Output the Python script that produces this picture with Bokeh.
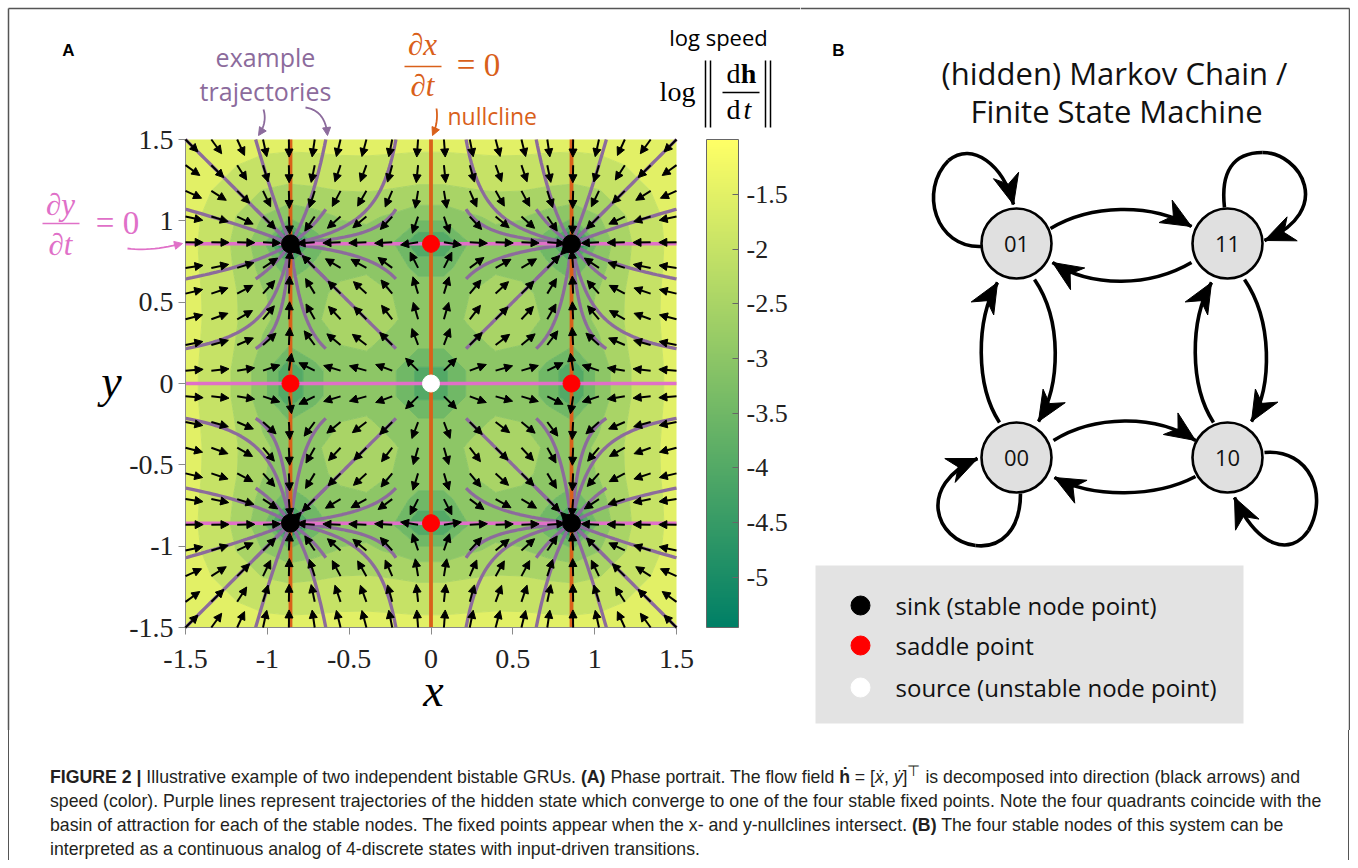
import numpy as np
from bokeh.plotting import figure
from bokeh.models import (ColumnDataSource, Label, Arrow, NormalHead, ColorBar, LinearAxis,
                          LinearColorMapper, FixedTicker, Range1d, Div, CustomJSTickFormatter)
from bokeh.layouts import row, column
from bokeh.core.properties import value
from bokeh.embed import file_html
from bokeh.resources import INLINE

# ---------------- data ----------------
# two independent bistable GRUs:  dh/dt = RATE * (tanh(GAIN*h) - h)
GRU_GAIN = 1.5
GRU_RATE = 0.5
LIMIT = 1.5
FIELD_POINTS = 20          # quiver / speed grid per axis
START_POINTS = 8           # trajectory start grid per axis
axis_ticks = [-1.5, -1.0, -0.5, 0.0, 0.5, 1.0, 1.5]
cbar_ticks = [-5.0, -4.5, -4.0, -3.5, -3.0, -2.5, -2.0, -1.5]
contour_levels = [-6.0, -5.5, -5.0, -4.5, -4.0, -3.5, -3.0, -2.5, -2.0, -1.5, -1.0, 0.0]
legend_labels = ["sink (stable node point)", "saddle point", "source (unstable node point)"]
legend_colors = ["black", "#ff0000", "white"]
node_labels = ["01", "11", "00", "10"]
node_x = [1016, 1227, 1016, 1227]
node_y = [243, 243, 457, 457]

PURPLE = "#8C6B9C"
ORANGE = "#D9601A"
PINK = "#E070C8"
SERIF = "Liberation Serif"
SANS = "Open Sans"


def flow(v):
    return GRU_RATE * (np.tanh(GRU_GAIN * v) - v)


xs_star = 1.0
for _ in range(200):
    xs_star = np.tanh(GRU_GAIN * xs_star)

grid = np.linspace(-LIMIT, LIMIT, FIELD_POINTS)
GX, GY = np.meshgrid(grid, grid)
U, V = flow(GX), flow(GY)
SPEED = np.hypot(U, V)
LOGS = np.log(SPEED)

lo, hi = float(LOGS.min()), float(LOGS.max())
palette = ["#%02x%02x%02x" % (int(round(255 * t)), int(round(255 * (0.5 + 0.5 * t))), 102)
           for t in np.linspace(0, 1, 256)]


def pal(v):
    t = min(max((v - lo) / (hi - lo), 0.0), 1.0)
    return palette[int(round(t * 255))]


band_colors = [pal(contour_levels[k]) for k in range(len(contour_levels) - 1)]
line_colors = [band_colors[max(k - 1, 0)] for k in range(len(contour_levels))]

# ---------------- figure A (frame = whole canvas; data box placed inside) ----------------
WA, HA = 800, 730
FL, FR, FT, FB = 185, 676, 139, 627      # page pixels of the [-1.5,1.5]^2 box
sx = 2 * LIMIT / (FR - FL)
sy = 2 * LIMIT / (FB - FT)
p = figure(width=WA, height=HA,
           x_range=Range1d(-LIMIT - FL * sx, LIMIT + (WA - FR) * sx),
           y_range=Range1d(-LIMIT - (HA - FB) * sy, LIMIT + FT * sy),
           x_axis_location=None, y_axis_location=None, min_border=0,
           toolbar_location=None, output_backend="svg")
p.grid.visible = False
p.outline_line_color = None
p.frame_align = False


def hx(px):
    return -LIMIT + (px - FL) * sx


def hy(py):
    return LIMIT - (py - FT) * sy


p.contour(x=grid, y=grid, z=LOGS, levels=contour_levels, fill_color=band_colors,
          line_color=line_colors, line_width=1.0)

# trajectories
starts = np.linspace(-LIMIT, LIMIT, START_POINTS)
tx, ty = [], []
dt = 0.04
for x0 in starts:
    for y0 in starts:
        xx, yy = [x0], [y0]
        cx, cy = x0, y0
        for i in range(1200):
            k1x, k1y = flow(cx), flow(cy)
            k2x, k2y = flow(cx + dt / 2 * k1x), flow(cy + dt / 2 * k1y)
            k3x, k3y = flow(cx + dt / 2 * k2x), flow(cy + dt / 2 * k2y)
            k4x, k4y = flow(cx + dt * k3x), flow(cy + dt * k3y)
            cx += dt / 6 * (k1x + 2 * k2x + 2 * k3x + k4x)
            cy += dt / 6 * (k1y + 2 * k2y + 2 * k3y + k4y)
            if i % 3 == 0:
                xx.append(cx); yy.append(cy)
        tx.append(xx); ty.append(yy)
p.multi_line(tx, ty, line_color=PURPLE, line_width=3.3)

# nullclines
nulls = [-xs_star, 0.0, xs_star]
p.multi_line([[-LIMIT, LIMIT]] * 3, [[v, v] for v in nulls], line_color=PINK, line_width=3.5)
p.multi_line([[v, v] for v in nulls], [[-LIMIT, LIMIT]] * 3, line_color=ORANGE, line_width=3.8)

# direction arrows
AL = 0.108
qsrc = ColumnDataSource(dict(x0=GX.ravel(), y0=GY.ravel(),
                             x1=(GX + AL * U / SPEED).ravel(), y1=(GY + AL * V / SPEED).ravel()))
p.add_layout(Arrow(source=qsrc, x_start="x0", y_start="y0", x_end="x1", y_end="y1",
                   line_width=2, line_color="black",
                   end=NormalHead(size=8, fill_color="black", line_color="black", line_width=1)))

# fixed points
sink_x = [-xs_star, xs_star, -xs_star, xs_star]
sink_y = [xs_star, xs_star, -xs_star, -xs_star]
sad_x = [0, 0, -xs_star, xs_star]
sad_y = [xs_star, -xs_star, 0, 0]
p.scatter(sink_x, sink_y, size=18, fill_color="black", line_color="black", level="overlay")
p.scatter(sad_x, sad_y, size=17, fill_color="#ff0000", line_color="#ff0000", level="overlay")
p.scatter([0], [0], size=17, fill_color="white", line_color="white", level="overlay")

# axes, fixed at the data box edges
fmt = CustomJSTickFormatter(code="return tick.toString();")
xax = LinearAxis(fixed_location=-LIMIT, bounds=(-LIMIT, LIMIT))
yax = LinearAxis(fixed_location=-LIMIT, bounds=(-LIMIT, LIMIT))
for ax in (xax, yax):
    ax.ticker = FixedTicker(ticks=axis_ticks)
    ax.formatter = fmt
    ax.major_label_text_font = SERIF
    ax.major_label_text_font_size = "28px"
    ax.major_label_text_color = "#222222"
    ax.axis_line_color = "#8a8a8a"
    ax.major_tick_line_color = "#8a8a8a"
    ax.major_tick_out = 7
    ax.major_tick_in = 0
    ax.minor_tick_line_color = None
xax.major_label_standoff = 15
yax.major_label_standoff = 5
p.add_layout(xax, "below")
p.add_layout(yax, "left")

# colour bar
mapper = LinearColorMapper(palette=palette, low=lo, high=hi)
cb = ColorBar(color_mapper=mapper, ticker=FixedTicker(ticks=cbar_ticks), formatter=fmt,
              width=32, height=FB - FT, margin=0, padding=0, location=(706, HA - FB),
              major_label_text_font=SERIF, major_label_text_font_size="26px",
              major_label_text_color="#222222",
              major_tick_in=6, major_tick_out=0, major_tick_line_color="#666666",
              bar_line_color="#666666", label_standoff=8, background_fill_alpha=0)
p.add_layout(cb, "center")


def lab(px, py, text, size, color="black", font=SANS, style="normal", align="center"):
    p.add_layout(Label(x=hx(px), y=hy(py), text=text, text_font=font,
                       text_font_size=f"{size}px", text_color=color, text_font_style=style,
                       text_align=align, text_baseline="middle"))


def seg(x0, y0, x1, y1, color="black", w=1.5):
    p.add_layout(Arrow(x_start=hx(x0), y_start=hy(y0), x_end=hx(x1), y_end=hy(y1),
                       end=None, line_color=color, line_width=w))


def curved_arrow(p0, c, p1, color, w=1.8):
    t = np.linspace(0, 1, 14)
    bx = (1 - t) ** 2 * p0[0] + 2 * (1 - t) * t * c[0] + t ** 2 * p1[0]
    by = (1 - t) ** 2 * p0[1] + 2 * (1 - t) * t * c[1] + t ** 2 * p1[1]
    p.line([hx(v) for v in bx[:-1]], [hy(v) for v in by[:-1]], line_color=color, line_width=w)
    p.add_layout(Arrow(x_start=hx(bx[-2]), y_start=hy(by[-2]), x_end=hx(bx[-1]), y_end=hy(by[-1]),
                       line_color=color, line_width=w,
                       end=NormalHead(size=8, fill_color=color, line_color=color, line_width=1)))


# figure frame lines (top/left of the boxed figure)
p.segment([hx(8), hx(8)], [hy(8), hy(8)], [hx(WA), hx(8)], [hy(8), hy(HA)],
          line_color="#555555", line_width=1.5)

lab(68, 50, "A", 17, font="Liberation Sans", style="bold")
lab(265, 56, "example", 25, PURPLE)
lab(265, 90, "trajectories", 25, PURPLE)
curved_arrow((263, 109), (267, 122), (258, 135), PURPLE)
curved_arrow((305, 107), (325, 110), (327, 135), PURPLE)

lab(422, 44, "∂x", 31, ORANGE, SERIF, "italic")
seg(404, 66, 441, 66, ORANGE)
lab(422, 85, "∂t", 31, ORANGE, SERIF, "italic")
lab(478, 64, "= 0", 33, ORANGE, SERIF)
lab(447, 115, "nullcline", 23, ORANGE, align="left")
curved_arrow((436, 108), (438, 122), (432, 135), ORANGE)

lab(60, 204, "∂y", 31, PINK, SERIF, "italic")
seg(42, 223, 79, 223, PINK)
lab(60, 244, "∂t", 31, PINK, SERIF, "italic")
lab(117, 222, "= 0", 33, PINK, SERIF)
curved_arrow((127, 248), (150, 251), (182, 243), PINK)

lab(718, 36, "log speed", 22)
lab(677, 91, "log", 28, font=SERIF)
for bx_ in (705, 710, 765, 770):
    seg(bx_, 60, bx_, 127, "black", 1.5)
lab(733, 73, "d", 28, font=SERIF)
lab(748, 73, "h", 28, font=SERIF, style="bold")
seg(722, 92, 759, 92, "black", 1.5)
lab(733, 109, "d", 28, font=SERIF)
lab(747, 109, "t", 28, font=SERIF, style="italic")

lab(111, 381, "y", 46, font=SERIF, style="italic")
lab(433, 690, "x", 46, font=SERIF, style="italic")

# ---------------- figure B ----------------
pb = figure(width=550, height=HA, x_range=Range1d(800, 1350), y_range=Range1d(HA, 0),
            x_axis_location=None, y_axis_location=None, min_border=0,
            toolbar_location=None, output_backend="svg")
pb.grid.visible = False
pb.outline_line_color = None
pb.frame_align = False

pb.segment([800, 1349], [8, 8], [1349, 1349], [8, HA], line_color="#555555", line_width=1.5)

pb.text([838], [50], text=["B"], text_font=value("Liberation Sans"), text_font_style="bold",
        text_font_size="17px", text_align="center", text_baseline="middle")
pb.text([1114, 1116], [72, 110], text=["(hidden) Markov Chain /", "Finite State Machine"],
        text_font=value(SANS), text_font_size="31px", text_align="center",
        text_baseline="middle", text_color="#111111")

edges = [  # x0, y0, cx0, cy0, cx1, cy1, x1, y1   (last one of each chain gets a head)
    [(1050, 228, 1090, 204, 1150, 202, 1191, 226)],
    [(1191, 262, 1150, 286, 1092, 288, 1052, 262)],
    [(1034, 279, 1062, 320, 1060, 385, 1038, 421)],
    [(999, 422, 975, 385, 975, 320, 997, 282)],
    [(1053, 440, 1093, 415, 1155, 413, 1195, 440)],
    [(1195, 476, 1155, 497, 1093, 498, 1054, 477)],
    [(1213, 422, 1189, 385, 1189, 320, 1211, 282)],
    [(1244, 279, 1272, 320, 1272, 385, 1251, 421)],
    [(981, 246, 935, 248, 918, 190, 948, 160), (948, 160, 972, 140, 1003, 165, 1013, 204)],
    [(1224, 207, 1220, 172, 1232, 152, 1262, 152), (1262, 152, 1300, 152, 1335, 210, 1264, 240)],
    [(1020, 493, 1020, 530, 1000, 548, 975, 545), (975, 545, 935, 540, 915, 485, 977, 458)],
    [(1264, 452, 1310, 448, 1328, 495, 1308, 530), (1308, 530, 1290, 556, 1258, 548, 1234, 497)],
]
segs = [s for chain in edges for s in chain]
bsrc = ColumnDataSource(dict(x0=[s[0] for s in segs], y0=[s[1] for s in segs],
                             cx0=[s[2] for s in segs], cy0=[s[3] for s in segs],
                             cx1=[s[4] for s in segs], cy1=[s[5] for s in segs],
                             x1=[s[6] for s in segs], y1=[s[7] for s in segs]))
pb.bezier(x0="x0", y0="y0", cx0="cx0", cy0="cy0", cx1="cx1", cy1="cy1", x1="x1", y1="y1",
          source=bsrc, line_color="black", line_width=3.6)
hxs, hys = [], []
for chain in edges:
    s = chain[-1]
    tip = np.array([s[6], s[7]], float)
    d = tip - np.array([s[4], s[5]], float)
    d /= np.hypot(*d)
    n = np.array([-d[1], d[0]])
    L, W, N = 30, 13, 9
    pts = [tip, tip - L * d + W * n, tip - (L - N) * d, tip - L * d - W * n]
    hxs.append([q[0] for q in pts]); hys.append([q[1] for q in pts])
pb.patches(hxs, hys, fill_color="black", line_color="black", line_width=1)

pb.circle(node_x, node_y, radius=35, fill_color="#e0e0e0", line_color="black", line_width=2.6)
pb.text(node_x, node_y, text=node_labels, text_font=value(SANS), text_font_size="22px",
        text_align="center", text_baseline="middle", text_color="#111111")

# legend box
pb.quad(left=[815], right=[1243], top=[565], bottom=[723], fill_color="#e3e3e3", line_color=None)
ly = [605, 645, 687]
pb.scatter([860] * 3, ly, size=19, fill_color=legend_colors, line_color=legend_colors)
pb.text([895] * 3, ly, text=legend_labels, text_font=value(SANS), text_font_size="24px",
        text_align="left", text_baseline="middle", text_color="#111111")

# ---------------- caption ----------------
caption = (
    '<div style="position:relative;margin-left:8px;width:1341px;height:130px;'
    'border-left:1.5px solid #555;border-right:1.5px solid #555;">'
    '<div style="font-family:\'Liberation Sans\',Arial,sans-serif;font-size:17.7px;'
    'line-height:24px;color:#231f20;padding:29px 0 0 41px;white-space:nowrap;">'
    '<b>FIGURE 2 |</b> Illustrative example of two independent bistable GRUs. <b>(A)</b> Phase portrait. '
    'The flow field <b>ḣ</b> = [<i>ẋ</i>, <i>ẏ</i>]<sup>⊤</sup> is decomposed into direction (black arrows) and<br>'
    'speed (color). Purple lines represent trajectories of the hidden state which converge to one of the four '
    'stable fixed points. Note the four quadrants coincide with the<br>'
    'basin of attraction for each of the stable nodes. The fixed points appear when the x- and y-nullclines '
    'intersect. <b>(B)</b> The four stable nodes of this system can be<br>'
    'interpreted as a continuous analog of 4-discrete states with input-driven transitions.'
    '</div></div>')
div = Div(text=caption, width=1350, height=130, margin=(0, 0, 0, 0))

layout = column(row(p, pb), div)
open("out.html", "w").write(file_html(layout, INLINE))
